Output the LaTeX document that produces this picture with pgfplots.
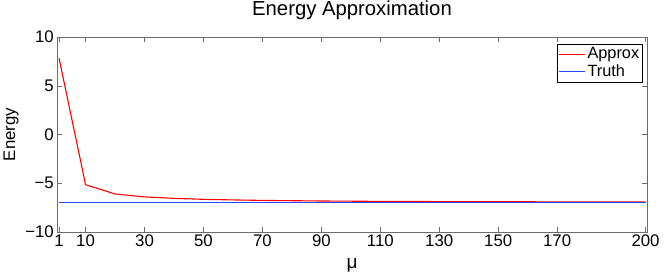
\documentclass[border=0pt]{standalone}
\usepackage{pgfplots}
\pgfplotsset{compat=1.18}
\usepackage{fontspec}
\setmainfont{Liberation Sans}
\definecolor{truthblue}{RGB}{40,70,255}
\begin{document}
\fontsize{16bp}{19bp}\selectfont
\begin{tikzpicture}
\useasboundingbox (-57bp,-43bp) rectangle (607bp,232bp);
\begin{axis}[
  at={(0,0)}, anchor=south west,
  scale only axis, width=590bp, height=195bp,
  xmin=0.3, xmax=200.5, ymin=-10, ymax=10,
  xtick={1,10,30,50,70,90,110,130,150,170,200},
  ytick={-10,-5,0,5,10},
  yticklabels={−10,−5,0,5,10},
  tick align=inside, tick pos=both,
  major tick length=5bp,
  axis line style={gray!85!black},
  tick style={gray!85!black},
  /pgf/number format/assume math mode=true,
  tick label style={font=\fontsize{16.8bp}{19bp}\selectfont, black},
  xticklabel style={inner sep=3bp},
  yticklabel style={inner sep=3bp},
  title={Energy Approximation},
  title style={font=\fontsize{20.3bp}{23bp}\selectfont, at={(axis description cs:0.5,1)}, anchor=base, yshift=16bp, inner sep=0pt},
  xlabel={μ}, xlabel style={font=\fontsize{19bp}{22bp}\selectfont, at={(axis description cs:0.5,0)}, anchor=base, yshift=-36bp, inner sep=0pt},
  ylabel={Energy}, ylabel style={font=\fontsize{16.8bp}{19bp}\selectfont, at={(axis description cs:0,0.5)}, anchor=center, yshift=46bp, inner sep=0pt},
  legend style={at={(0.993,0.965)}, anchor=north east, draw=black, font=\fontsize{16.3bp}{19bp}\selectfont, inner sep=1.5bp, row sep=-0.5bp, legend cell align=left},
  legend image code/.code={\draw[#1] (0bp,0bp) -- (26bp,0bp);},
]
\addplot[red, line width=1.1bp] coordinates {
(1,7.82) (10,-5.15) (20,-6.1) (30,-6.4) (40,-6.55) (50,-6.65) (60,-6.71) (70,-6.76)
(80,-6.79) (90,-6.82) (100,-6.84) (110,-6.86) (120,-6.87) (130,-6.88) (140,-6.89)
(150,-6.9) (160,-6.9) (170,-6.91) (180,-6.91) (190,-6.92) (200,-6.92)};
\addlegendentry{Approx}
\addplot[truthblue, line width=1.1bp] coordinates {(1,-6.95) (200,-6.95)};
\addlegendentry{Truth}
\end{axis}
\end{tikzpicture}
\end{document}
